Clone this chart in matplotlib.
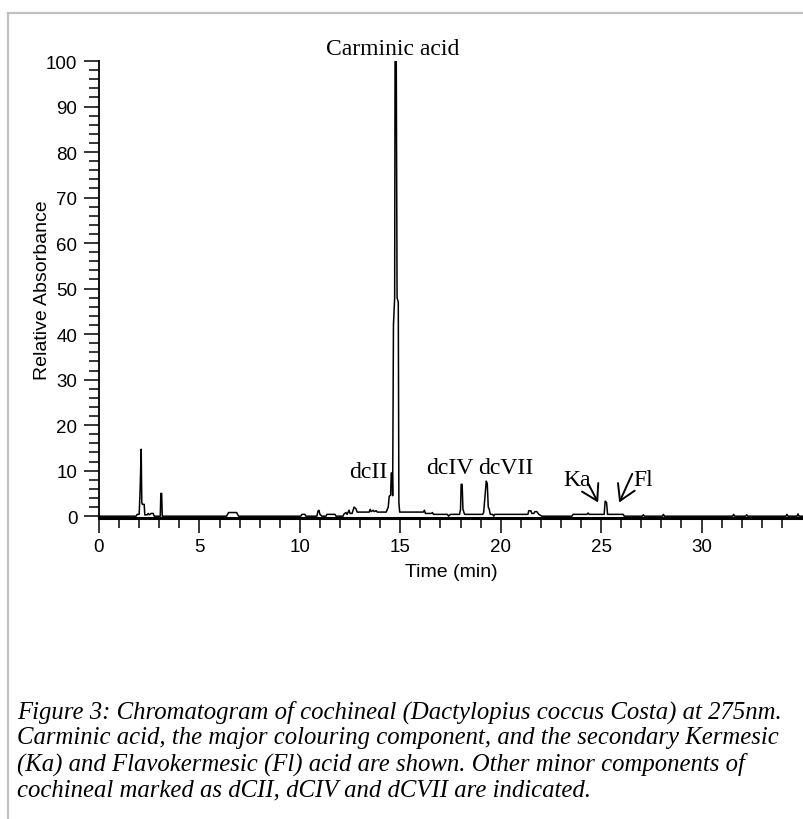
import matplotlib
matplotlib.use("Agg")
import matplotlib.pyplot as plt
from matplotlib.lines import Line2D

# ---- data (retention time in min, relative absorbance) ----
time = [0, 1.85, 1.9, 2.0, 2.05, 2.1, 2.13, 2.16, 2.25, 2.28, 2.4, 2.45, 2.5, 2.6, 2.7, 2.75,
        3.05, 3.08, 3.12, 3.15, 6.35, 6.45, 6.85, 6.95, 10.05, 10.1, 10.25, 10.3, 10.85, 10.9,
        10.95, 11.0, 11.1, 11.3, 11.35, 11.75, 11.8, 12.15, 12.2, 12.3, 12.35, 12.45, 12.5, 12.6,
        12.7, 12.8, 12.85, 13.45, 13.5, 13.55, 13.65, 13.7, 13.8, 13.85, 14.3, 14.4, 14.45, 14.52,
        14.55, 14.6, 14.62, 14.66, 14.72, 14.74, 14.8, 14.84, 14.9, 14.93, 14.97, 16.15, 16.2,
        16.25, 16.55, 16.6, 16.65, 17.35, 17.4, 17.5, 17.95, 18.0, 18.03, 18.08, 18.12, 18.2,
        19.1, 19.15, 19.28, 19.33, 19.38, 19.43, 19.48, 19.6, 19.65, 19.7, 21.35, 21.4, 21.5,
        21.55, 21.65, 21.7, 21.8, 21.9, 22.05, 23.55, 23.6, 24.3, 24.35, 24.4, 25.15, 25.2, 25.27,
        25.32, 26.1, 26.15, 27.05, 27.1, 27.15, 28.05, 28.1, 28.15, 31.55, 31.6, 31.65, 32.2,
        32.25, 32.3, 34.2, 34.25, 34.3, 34.75, 34.8, 34.85, 35.1]
absorbance = [0, 0, 0.4, 0.4, 6, 14.7, 3, 2.6, 2.6, 0.3, 0.3, 0.6, 0.3, 0.6, 0.6, 0,
              0, 5.0, 5.0, 0, 0, 0.8, 0.8, 0, 0, 0.4, 0.4, 0, 0, 1.1,
              1.3, 0.4, 0, 0, 0.4, 0.4, 0, 0, 0.5, 0.8, 0.4, 1.3, 0.6, 0.6,
              2.0, 1.6, 0.9, 0.9, 1.5, 1.0, 1.3, 1.0, 1.2, 0.9, 0.9, 2.0, 4.4, 4.6,
              9.5, 9.5, 4.5, 42, 48, 100, 100, 48, 47, 3, 0.9, 0.9, 1.3,
              0.6, 0.6, 0.8, 0.4, 0.4, 0, 0.4, 0.4, 1.5, 7.0, 7.0, 1.5, 0.4,
              0.4, 0.8, 7.7, 7.2, 2.0, 1.5, 0.4, 0.4, 0, 0.4, 0.4, 1.2, 1.2,
              0.6, 0.6, 1.0, 1.0, 0.4, 0, 0, 0.4, 0.4, 0.7, 0.4, 0.4, 3.3, 3.0,
              0.4, 0.4, 0, 0, 0.3, 0, 0, 0.4, 0, 0, 0.4, 0, 0,
              0.3, 0, 0, 0.4, 0, 0, 0.5, 0, 0]

peak_labels = ["Carminic acid", "dcII", "dcIV", "dcVII", "Ka", "Fl"]
label_x = [14.6, 13.4, 17.45, 20.25, 23.8, 27.1]
label_y = [102.7, 9.9, 10.8, 10.8, 8.1, 8.1]

x_ticks = [0, 5, 10, 15, 20, 25, 30]
y_ticks = [0, 10, 20, 30, 40, 50, 60, 70, 80, 90, 100]

caption_lines = ["Figure 3: Chromatogram of cochineal (Dactylopius coccus Costa) at 275nm.",
                 "Carminic acid, the major colouring component, and the secondary Kermesic",
                 "(Ka) and Flavokermesic (Fl) acid are shown. Other minor components of",
                 "cochineal marked as dCII, dCIV and dCVII are indicated."]

W, H = 804, 820
fig = plt.figure(figsize=(W / 100, H / 100), dpi=100)
fig.patch.set_facecolor("white")

# light grey frame
fig.add_artist(Line2D([8 / W, 1.0], [1 - 14 / H, 1 - 14 / H], color="#c0c0c0", lw=1.6,
                      transform=fig.transFigure))
fig.add_artist(Line2D([8 / W, 8 / W], [1 - 14 / H, 0], color="#c0c0c0", lw=1.6,
                      transform=fig.transFigure))

x0, x1 = 99, 804
ytop, ybot = 62, 519
ax = fig.add_axes([x0 / W, 1 - ybot / H, (x1 - x0) / W, (ybot - ytop) / H])
ax.plot(time, absorbance, color="black", lw=1.1)
ax.set_xlim(0, 35.1)
ax.set_ylim(-0.4, 100)

for s in ["top", "right"]:
    ax.spines[s].set_visible(False)
ax.spines["left"].set_linewidth(1.3)
ax.spines["bottom"].set_linewidth(2.2)
ax.spines["left"].set_bounds(0, 100)

ax.set_xticks(x_ticks)
ax.set_yticks(y_ticks)
ax.set_xticks(range(0, 35), minor=True)
ax.set_yticks(range(0, 101, 2), minor=True)
ax.tick_params(axis="both", which="major", length=10.5, width=1.1, labelsize=13.5,
               direction="out")
ax.tick_params(axis="both", which="minor", length=7, width=1.1, direction="out")
ax.tick_params(axis="y", pad=5)
ax.tick_params(axis="x", pad=4)
for lab in ax.get_xticklabels() + ax.get_yticklabels():
    lab.set_family(["Liberation Sans", "DejaVu Sans"])

ax.set_xlabel("Time (min)", fontsize=14, family=["Liberation Sans", "DejaVu Sans"], labelpad=6)
ax.set_ylabel("Relative Absorbance", fontsize=14, family=["Liberation Sans", "DejaVu Sans"],
              labelpad=-3.5)

for t, lx, ly in zip(peak_labels, label_x, label_y):
    ax.text(lx, ly, t, fontsize=17, family=["Liberation Serif", "DejaVu Serif"],
            ha="center", va="center", clip_on=False)

ax.annotate("", xy=(24.85, 3.0), xytext=(24.35, 7.2),
            arrowprops=dict(arrowstyle="->,head_length=0.5,head_width=0.3", lw=1.4,
                            color="black", shrinkA=0, shrinkB=0, mutation_scale=22))
ax.annotate("", xy=(25.9, 3.0), xytext=(26.55, 9.3),
            arrowprops=dict(arrowstyle="->,head_length=0.5,head_width=0.3", lw=1.4,
                            color="black", shrinkA=0, shrinkB=0, mutation_scale=22))

for i, line in enumerate(caption_lines):
    fig.text(17 / W, 1 - (712 + 26 * i) / H, line, fontsize=17.8, style="italic",
             family=["Liberation Serif", "DejaVu Serif"], ha="left", va="center")

fig.savefig("out.png", dpi=100)
